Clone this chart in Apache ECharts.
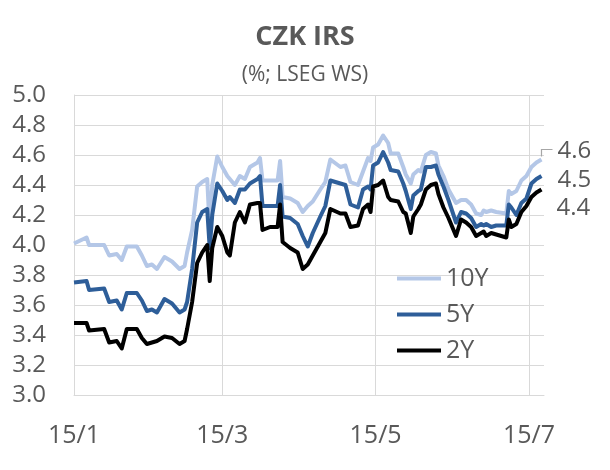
<!DOCTYPE html>
<html>
<head>
<meta charset="utf-8">
<script src="https://cdn.jsdelivr.net/npm/echarts/dist/echarts.min.js"></script>
<style>
html, body { margin: 0; padding: 0; background: #fff; }
#chart { width: 610px; height: 470px; }
</style>
</head>
<body>
<div id="chart"></div>
<script>
// datumy (d/m)
var dates = ['15/1','20/1','21/1','27/1','29/1','1/2','3/2','5/2','9/2','11/2',
    '13/2','15/2','17/2','20/2','23/2','26/2','28/2','1/3','3/3','5/3',
    '7/3','9/3','10/3','11/3','13/3','15/3','17/3','18/3','20/3','22/3',
    '24/3','26/3','29/3','30/3','31/3','3/4','6/4','7/4','8/4','11/4',
    '14/4','16/4','18/4','20/4','23/4','25/4','27/4','1/5','3/5','5/5',
    '8/5','10/5','12/5','13/5','14/5','16/5','18/5','20/5','21/5','24/5',
    '26/5','27/5','29/5','30/5','1/6','2/6','4/6','6/6','8/6','9/6',
    '11/6','13/6','15/6','16/6','18/6','20/6','22/6','24/6','26/6','27/6',
    '28/6','30/6','2/7','6/7','7/7','8/7','10/7','12/7','14/7','16/7',
    '18/7','20/7'];

var irs10y = [4.01,4.05,4.00,4.00,3.93,3.94,3.90,3.99,3.99,3.93,
    3.86,3.87,3.84,3.92,3.89,3.84,3.86,3.95,4.10,4.39,
    4.42,4.44,4.10,4.40,4.59,4.52,4.46,4.44,4.40,4.46,
    4.44,4.52,4.55,4.58,4.43,4.43,4.43,4.56,4.32,4.31,
    4.28,4.22,4.26,4.29,4.37,4.42,4.57,4.52,4.53,4.42,
    4.40,4.49,4.58,4.56,4.65,4.67,4.73,4.68,4.61,4.61,
    4.52,4.47,4.41,4.47,4.50,4.49,4.60,4.62,4.61,4.53,
    4.46,4.37,4.31,4.28,4.30,4.30,4.27,4.21,4.20,4.23,
    4.22,4.23,4.22,4.21,4.36,4.34,4.36,4.43,4.46,4.52,
    4.55,4.57];

var irs5y = [3.75,3.76,3.70,3.71,3.62,3.63,3.57,3.68,3.68,3.63,
    3.56,3.57,3.55,3.64,3.61,3.55,3.57,3.62,3.84,4.15,
    4.22,4.24,3.98,4.20,4.41,4.36,4.30,4.32,4.28,4.37,
    4.37,4.41,4.44,4.46,4.26,4.26,4.26,4.40,4.19,4.18,
    4.14,4.06,3.99,4.08,4.19,4.26,4.43,4.41,4.40,4.27,
    4.25,4.37,4.39,4.37,4.53,4.55,4.62,4.55,4.50,4.49,
    4.41,4.36,4.24,4.33,4.36,4.37,4.52,4.52,4.53,4.47,
    4.39,4.30,4.20,4.15,4.22,4.21,4.18,4.12,4.14,4.13,
    4.14,4.12,4.13,4.13,4.27,4.25,4.20,4.28,4.31,4.41,
    4.44,4.46];

var irs2y = [3.48,3.48,3.43,3.44,3.35,3.36,3.31,3.44,3.44,3.38,
    3.34,3.35,3.36,3.39,3.38,3.34,3.36,3.44,3.62,3.88,
    3.95,4.00,3.76,3.98,4.12,4.06,3.95,3.93,4.15,4.22,
    4.15,4.27,4.28,4.28,4.10,4.12,4.12,4.27,4.02,3.98,
    3.95,3.84,3.87,3.93,4.02,4.08,4.24,4.21,4.21,4.12,
    4.13,4.24,4.27,4.22,4.39,4.40,4.43,4.32,4.30,4.29,
    4.22,4.21,4.08,4.19,4.24,4.27,4.37,4.40,4.41,4.34,
    4.25,4.18,4.10,4.06,4.17,4.15,4.12,4.06,4.08,4.09,
    4.06,4.08,4.07,4.05,4.17,4.12,4.14,4.22,4.26,4.32,
    4.35,4.37];

var xLabels = ['15/1', '15/3', '15/5', '15/7'];

var FONT = '"Open Sans", sans-serif';
var TXT = '#595959';
var GRID = '#d9d9d9';

// kalendarni dny na ose x (datumova osa jako v Excelu)
var days = [];
for (var d = new Date(2025, 0, 15); d <= new Date(2025, 6, 21); d.setDate(d.getDate() + 1)) {
    days.push(d.getDate() + '/' + (d.getMonth() + 1));
}

function isTick(index, value) {
    return xLabels.indexOf(value) >= 0;
}

function makeSeries(name, values, color, dist, dy) {
    var data = values.map(function (v, i) { return [dates[i], v]; });
    var last = data.length - 1;
    data[last] = { value: data[last], label: { show: true } };
    return {
        name: name,
        type: 'line',
        data: data,
        symbol: 'circle',
        symbolSize: 0,
        showSymbol: true,
        showAllSymbol: true,
        color: color,
        lineStyle: { color: color, width: 4, join: 'round' },
        itemStyle: { color: color },
        label: {
            show: false,
            position: 'right',
            distance: dist,
            fontFamily: FONT,
            fontSize: 24,
            color: TXT,
            formatter: function (p) { return p.value[1].toFixed(1); }
        },
        labelLayout: { dy: dy },
        emphasis: { disabled: true },
        animation: false
    };
}

var chart = echarts.init(document.getElementById('chart'));
chart.setOption({
    backgroundColor: '#fff',
    animation: false,
    title: {
        text: 'CZK IRS',
        subtext: '(%; LSEG WS)',
        left: 'center',
        top: 22,
        padding: 0,
        itemGap: 11,
        textStyle: { fontFamily: FONT, fontSize: 27, fontWeight: 'bold', color: TXT, lineHeight: 30 },
        subtextStyle: { fontFamily: FONT, fontSize: 21, color: TXT, lineHeight: 24 }
    },
    legend: {
        orient: 'vertical',
        left: 397,
        top: 266,
        padding: 0,
        itemGap: 11,
        itemWidth: 44,
        itemHeight: 4,
        icon: 'rect',
        textStyle: { fontFamily: FONT, fontSize: 25, color: TXT, lineHeight: 24 },
        data: ['10Y', '5Y', '2Y']
    },
    grid: { left: 74, right: 66, top: 95, bottom: 75, containLabel: false },
    xAxis: {
        type: 'category',
        data: days,
        boundaryGap: false,
        axisLine: { show: true, lineStyle: { color: GRID, width: 1 } },
        axisTick: { show: false },
        axisLabel: { interval: isTick, margin: 28, fontFamily: FONT, fontSize: 25, color: TXT },
        splitLine: { show: true, interval: isTick, lineStyle: { color: GRID, width: 1 } }
    },
    yAxis: {
        type: 'value',
        min: 3.0,
        max: 5.0,
        interval: 0.2,
        axisLine: { show: true, lineStyle: { color: GRID, width: 1 } },
        axisTick: { show: false },
        axisLabel: {
            margin: 28, fontFamily: FONT, fontSize: 24, color: TXT,
            formatter: function (v) { return v.toFixed(1); }
        },
        splitLine: { show: true, lineStyle: { color: GRID, width: 1 } }
    },
    series: [
        makeSeries('10Y', irs10y, '#b4c7e7', 16, -8),
        makeSeries('5Y', irs5y, '#2e5e99', 16, 4),
        makeSeries('2Y', irs2y, '#000000', 15, 19)
    ]
});

// vodici carka k popisku 10Y - od posledniho bodu nahoru a doprava
var lastIdx = dates.length - 1;
var p = chart.convertToPixel({ seriesIndex: 0 }, [dates[lastIdx], irs10y[lastIdx]]);
chart.setOption({
    graphic: [{
        type: 'polyline',
        silent: true,
        shape: { points: [[p[0], p[1] - 3], [p[0], p[1] - 10], [p[0] + 11, p[1] - 10]] },
        style: { stroke: '#a6a6a6', lineWidth: 1.2, fill: null }
    }]
});
</script>
</body>
</html>
